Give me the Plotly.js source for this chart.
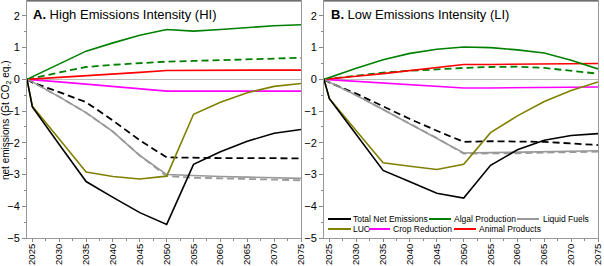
<!DOCTYPE html>
<html><head><meta charset="utf-8">
<script src="https://cdn.plot.ly/plotly-3.0.1.min.js"></script>
<style>html,body{margin:0;padding:0;background:#fff}#chart{width:604px;height:266px}</style>
</head><body><div id="chart"></div>
<script>
// ---- data (Gt CO2 eq.) ----
const years = [2024, 2025, 2030, 2035, 2040, 2045, 2050, 2055, 2060, 2065, 2070, 2075];

// A. High Emissions Intensity (HI)
const totalHI      = [0, -0.87, -2.05, -3.22, -3.72, -4.20, -4.57, -2.68, -2.28, -1.95, -1.70, -1.58];
const totalHIAlt   = [0, -0.10, -0.40, -0.72, -1.30, -1.92, -2.46, -2.48, -2.48, -2.48, -2.49, -2.49];
const algalHI      = [0, 0.08, 0.50, 0.89, 1.15, 1.39, 1.57, 1.52, 1.57, 1.63, 1.69, 1.72];
const algalHIAlt   = [0, 0.03, 0.22, 0.39, 0.46, 0.52, 0.56, 0.58, 0.61, 0.64, 0.67, 0.68];
const fuelsHI      = [0, -0.08, -0.55, -1.05, -1.65, -2.40, -3.00, -3.04, -3.06, -3.08, -3.10, -3.12];
const fuelsHIAlt   = [0, -0.08, -0.55, -1.05, -1.65, -2.40, -3.05, -3.10, -3.12, -3.14, -3.16, -3.18];
const lucHI        = [0, -0.85, -1.88, -2.92, -3.06, -3.14, -3.05, -1.10, -0.72, -0.42, -0.22, -0.13];
const cropHI       = [0, -0.01, -0.08, -0.15, -0.22, -0.30, -0.37, -0.37, -0.37, -0.37, -0.37, -0.37];
const animalHI     = [0, 0.01, 0.05, 0.10, 0.16, 0.22, 0.28, 0.29, 0.29, 0.29, 0.29, 0.29];

// B. Low Emissions Intensity (LI)
const totalLI      = [0, -0.61, -1.74, -2.87, -3.23, -3.59, -3.74, -2.71, -2.22, -1.92, -1.77, -1.71];
const totalLIAlt   = [0, -0.10, -0.45, -0.85, -1.25, -1.62, -1.97, -1.95, -1.96, -1.97, -2.02, -2.07];
const algalLI      = [0, 0.06, 0.35, 0.62, 0.82, 0.95, 1.02, 1.00, 0.93, 0.83, 0.60, 0.33];
const algalLIAlt   = [0, 0.02, 0.12, 0.21, 0.27, 0.32, 0.36, 0.39, 0.40, 0.36, 0.28, 0.18];
const fuelsLI      = [0, -0.08, -0.50, -0.95, -1.40, -1.85, -2.32, -2.31, -2.30, -2.28, -2.26, -2.25];
const fuelsLIAlt   = [0, -0.08, -0.50, -0.95, -1.40, -1.85, -2.34, -2.34, -2.33, -2.31, -2.29, -2.28];
const lucLI        = [0, -0.60, -1.62, -2.63, -2.74, -2.84, -2.68, -1.68, -1.15, -0.70, -0.35, -0.08];
const cropLI       = [0, -0.01, -0.06, -0.11, -0.17, -0.22, -0.27, -0.27, -0.26, -0.26, -0.25, -0.24];
const animalLI     = [0, 0.02, 0.10, 0.18, 0.27, 0.36, 0.47, 0.47, 0.48, 0.48, 0.49, 0.50];

const seriesNames = ['Total Net Emissions', 'Algal Production', 'Liquid Fuels', 'LUC', 'Crop Reduction', 'Animal Products'];
const panelTitles = ['<b>A.</b> High Emissions Intensity (HI)', '<b>B.</b> Low Emissions Intensity (LI)'];
const yTitle = 'net emissions (Gt CO<sub>2</sub> eq.)';
const xTickVals = [2025, 2030, 2035, 2040, 2045, 2050, 2055, 2060, 2065, 2070, 2075];

// ---- styles ----
const colorOf = {
  'Total Net Emissions': '#000000',
  'Algal Production': '#008000',
  'Liquid Fuels': '#999999',
  'LUC': '#808000',
  'Crop Reduction': '#ff00ff',
  'Animal Products': '#ff0000'
};
const FONT = 'Arial, "Liberation Sans", sans-serif';
const W = 604, H = 266;

const panels = [
  {xa: 'x', ya: 'y', total: totalHI, totalAlt: totalHIAlt, algal: algalHI, algalAlt: algalHIAlt,
   fuels: fuelsHI, fuelsAlt: fuelsHIAlt, luc: lucHI, crop: cropHI, animal: animalHI},
  {xa: 'x2', ya: 'y2', total: totalLI, totalAlt: totalLIAlt, algal: algalLI, algalAlt: algalLIAlt,
   fuels: fuelsLI, fuelsAlt: fuelsLIAlt, luc: lucLI, crop: cropLI, animal: animalLI}
];

const traces = [];
panels.forEach(p => {
  const line = (y, name, dashed) => ({
    x: years, y: y, type: 'scatter', mode: 'lines', name: name,
    xaxis: p.xa, yaxis: p.ya, showlegend: false, hoverinfo: 'skip',
    line: {color: colorOf[name], width: dashed ? 1.8 : 1.6, dash: dashed ? '7px,4px' : 'solid'}
  });
  traces.push(line(p.fuelsAlt, 'Liquid Fuels', true));
  traces.push(line(p.algalAlt, 'Algal Production', true));
  traces.push(line(p.totalAlt, 'Total Net Emissions', true));
  traces.push(line(p.crop, 'Crop Reduction', false));
  traces.push(line(p.animal, 'Animal Products', false));
  traces.push(line(p.algal, 'Algal Production', false));
  traces.push(line(p.fuels, 'Liquid Fuels', false));
  traces.push(line(p.luc, 'LUC', false));
  traces.push(line(p.total, 'Total Net Emissions', false));
});

const xDom = [[27 / W, 301 / W], [324 / W, 598 / W]];
const yDom = [1 - 238 / H, 1 - 1 / H];

function xAxis(dom, anchor) {
  return {
    domain: dom, anchor: anchor, range: [2024, 2075], tickmode: 'array', tickvals: xTickVals,
    tickangle: -90, ticks: 'outside', ticklen: 3, tickcolor: '#888', tickwidth: 1,
    showline: true, linecolor: '#999', linewidth: 1, mirror: true,
    showgrid: false, zeroline: false, ticklabeloverflow: 'allow', ticklabelstandoff: -2,
    tickfont: {family: FONT, size: 9.5, color: '#000'},
    minor: {ticks: 'outside', ticklen: 2, tickcolor: '#888', tick0: 2025, dtick: 2.5, showgrid: false}
  };
}
function yAxis(dom, anchor) {
  return {
    domain: dom, anchor: anchor, range: [-5, 2.47], tickmode: 'linear', tick0: 0, dtick: 1,
    ticks: 'outside', ticklen: 4, tickcolor: '#888', tickwidth: 1,
    showline: true, linecolor: '#999', linewidth: 1, mirror: true,
    showgrid: false, zeroline: true, zerolinecolor: '#bbbbbb', zerolinewidth: 1,
    tickfont: {family: FONT, size: 11, color: '#000'},
    minor: {ticks: 'outside', ticklen: 2, tickcolor: '#888', tick0: 0, dtick: 0.5, showgrid: false}
  };
}

// legend built from the series names (two rows, as in the reference)
const legendRows = [[0, 1, 2], [3, 4, 5]];
const legendLayout = [
  [{x0: 328, x1: 351, tx: 352}, {x0: 429, x1: 451, tx: 453}, {x0: 517, x1: 539, tx: 542}],
  [{x0: 328, x1: 351, tx: 352}, {x0: 369, x1: 390, tx: 392}, {x0: 454, x1: 476, tx: 478}]
];
const legendRowY = [219, 229];

const shapes = [];
const annotations = [];
legendRows.forEach((row, r) => {
  row.forEach((si, c) => {
    const pos = legendLayout[r][c];
    const name = seriesNames[si];
    const yp = 1 - legendRowY[r] / H;
    shapes.push({type: 'line', xref: 'paper', yref: 'paper', x0: pos.x0 / W, x1: pos.x1 / W, y0: yp, y1: yp,
      line: {color: colorOf[name], width: 2}});
    annotations.push({xref: 'paper', yref: 'paper', x: pos.tx / W, y: yp, xanchor: 'left', yanchor: 'middle',
      text: name, showarrow: false, borderpad: 0, font: {family: FONT, size: 8.5, color: '#000'}});
  });
});

// darker top frame lines
[['x', 'y'], ['x2', 'y2']].forEach(([xa, ya]) => {
  shapes.push({type: 'line', xref: xa + ' domain', yref: ya + ' domain', x0: 0, x1: 1, y0: 1, y1: 1,
    line: {color: '#444', width: 1}});
});

// panel titles
annotations.push({xref: 'paper', yref: 'paper', x: 31 / W, y: 1 - 15 / H, xanchor: 'left', yanchor: 'middle',
  text: panelTitles[0], showarrow: false, font: {family: FONT, size: 13, color: '#000'}});
annotations.push({xref: 'paper', yref: 'paper', x: 329 / W, y: 1 - 15 / H, xanchor: 'left', yanchor: 'middle',
  text: panelTitles[1], showarrow: false, font: {family: FONT, size: 13, color: '#000'}});
// y axis title
annotations.push({xref: 'paper', yref: 'paper', x: 6 / W, y: 1 - 120 / H, xanchor: 'center', yanchor: 'middle',
  text: yTitle, textangle: -90, showarrow: false, font: {family: FONT, size: 10, color: '#000'}});

const layout = {
  width: W, height: H, margin: {l: 0, r: 0, t: 0, b: 0},
  paper_bgcolor: '#fff', plot_bgcolor: '#fff', showlegend: false,
  font: {family: FONT, color: '#000'},
  xaxis: xAxis(xDom[0], 'y'), yaxis: yAxis(yDom, 'x'),
  xaxis2: xAxis(xDom[1], 'y2'), yaxis2: yAxis(yDom, 'x2'),
  shapes: shapes, annotations: annotations
};

Plotly.newPlot('chart', traces, layout, {displayModeBar: false, staticPlot: true});
</script>
</body></html>
